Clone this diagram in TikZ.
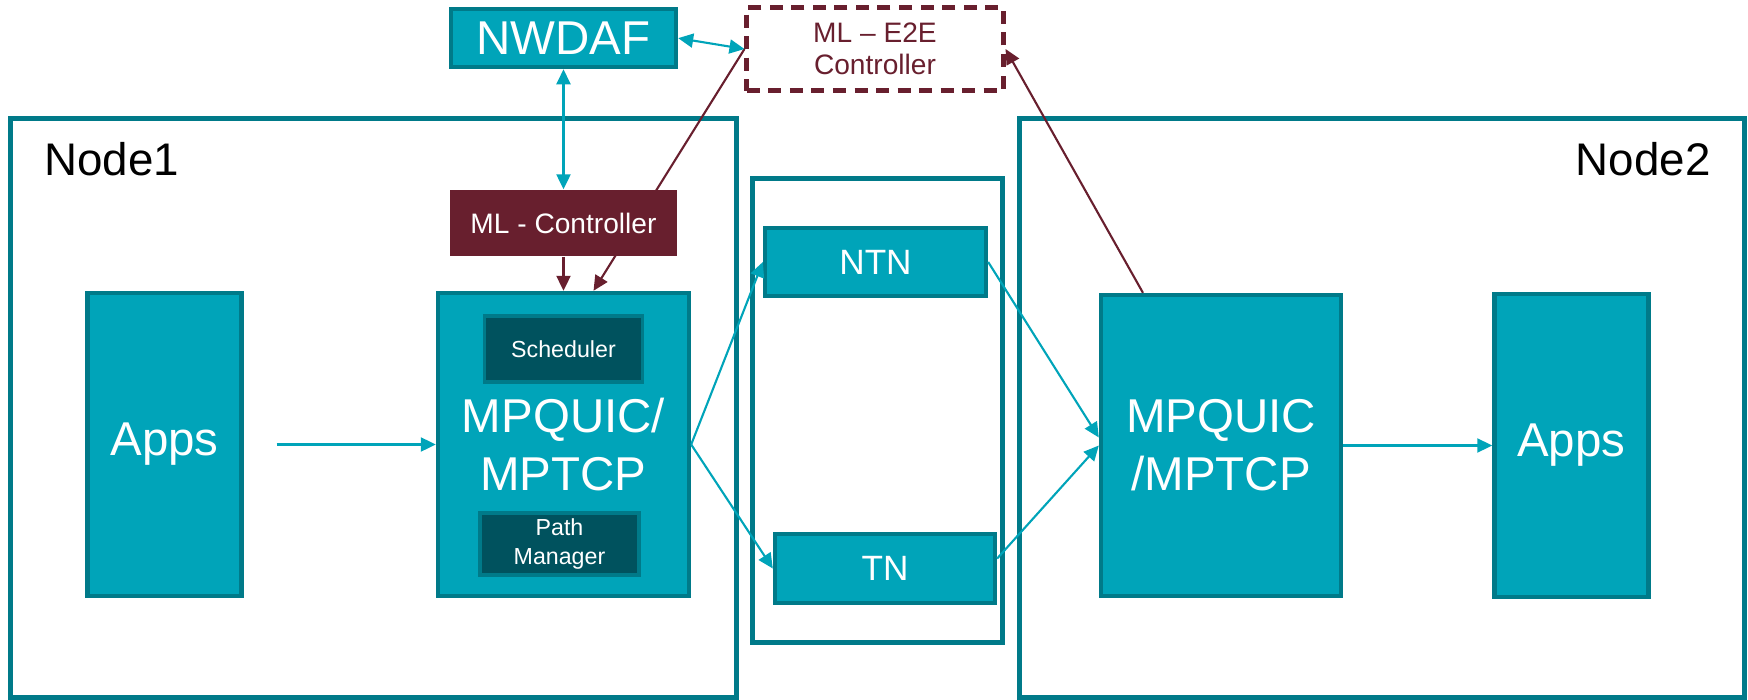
\documentclass[tikz,border=0pt]{standalone}
\usepackage{fontspec}
\setmainfont{Liberation Sans}
\usetikzlibrary{shapes,arrows,arrows.meta,positioning}
\definecolor{tealfill}{HTML}{00A4B9}
\definecolor{tealedge}{HTML}{007A89}
\definecolor{tealdeep}{HTML}{00525E}
\definecolor{mlred}{HTML}{681F2E}

\begin{document}
\begin{tikzpicture}[x=0.01cm, y=-0.01cm, node distance=0.5cm, auto]
    % Estilos
    \tikzstyle{frame} = [rectangle, draw=tealedge, line width=1.4pt, inner sep=0pt]
    \tikzstyle{block} = [rectangle, draw=tealedge, fill=tealfill, line width=1.2pt,
    text=white, align=center, inner sep=0pt, font=\fontsize{13.5}{16.5}\selectfont]
    \tikzstyle{subblock} = [rectangle, draw=tealedge, fill=tealdeep, line width=1.1pt,
    text=white, align=center, inner sep=0pt, font=\fontsize{6.6}{8.2}\selectfont]
    \tikzstyle{path} = [block, font=\fontsize{10}{12}\selectfont]
    \tikzstyle{mlbox} = [rectangle, fill=mlred, text=white, align=center, inner sep=0pt,
    font=\fontsize{8}{9.2}\selectfont]
    \tikzstyle{link} = [draw=tealfill, line width=0.6pt, -{Triangle[length=0.15cm, width=0.14cm]}]
    \tikzstyle{biglink} = [link, {Triangle[length=0.15cm, width=0.14cm]}-{Triangle[length=0.15cm, width=0.14cm]}]
    \tikzstyle{mllink} = [draw=mlred, line width=0.6pt, -{Triangle[length=0.15cm, width=0.14cm]}]

    \useasboundingbox (0,0) rectangle (1748,700);

    % Marcos
    \node [frame, minimum width=7.25cm, minimum height=5.78cm] (node1) at (373.5,408) {};
    \node [frame, minimum width=2.49cm, minimum height=4.63cm] (mid) at (877.5,410.5) {};
    \node [frame, minimum width=7.24cm, minimum height=5.78cm] (node2) at (1382,408) {};
    \node [anchor=base west, font=\fontsize{13}{16}\selectfont] (name1) at (32,175) {Node1};
    \node [anchor=base east, font=\fontsize{13}{16}\selectfont] (name2) at (1723,175) {Node2};

    % Nodo 1
    \node [block, minimum width=2.51cm, minimum height=3.03cm] (mpql) at (563.5,444.5) {MPQUIC/\\MPTCP};
    \node [block, minimum width=1.54cm, minimum height=3.03cm, left=1.92cm of mpql] (appsl) {Apps};
    \node [subblock, minimum width=1.58cm, minimum height=0.66cm, below=0.23cm of mpql.north] (sched) {Scheduler};
    \node [subblock, minimum width=1.59cm, minimum height=0.62cm, above=0.21cm of mpql.south, xshift=-0.04cm] (pathm) {Path\\Manager};

    % Caminos
    \node [path, minimum width=2.21cm, minimum height=0.68cm] (ntn) at (875.5,262) {NTN};
    \node [path, minimum width=2.20cm, minimum height=0.69cm] (tn) at (885,568.5) {TN};

    % Nodo 2
    \node [block, minimum width=2.40cm, minimum height=3.01cm] (mpqr) at (1221,445.5) {MPQUIC\\/MPTCP};
    \node [block, minimum width=1.54cm, minimum height=3.03cm, right=1.49cm of mpqr] (appsr) {Apps};

    % Control
    \node [rectangle, draw=mlred, line width=1.4pt, dash pattern=on 0.13cm off 0.085cm,
    minimum width=2.56cm, minimum height=0.83cm, text=mlred, align=center,
    font=\fontsize{8}{9.2}\selectfont] (e2e) at (875,49) {ML -- E2E\\Controller};
    \draw [mllink] (e2e.west) -- ([xshift=0.3cm]mpql.north);
    \node [mlbox, minimum width=2.26cm, minimum height=0.66cm, above=0.34cm of mpql] (mlc) {ML - Controller};
    \node [block, minimum width=2.25cm, minimum height=0.58cm, above=1.2cm of mlc] (nwdaf) {NWDAF};

    \draw [biglink] (nwdaf.east) -- (e2e.west);
    \draw [biglink] (nwdaf) -- (mlc);
    \draw [mllink] (mlc) -- (mpql);
    \draw [mllink] ([xshift=-0.78cm]mpqr.north) -- (e2e.east);
    \draw [link, shorten <=0.33cm] (appsl) -- (mpql);
    \draw [link] (mpql.east) -- (ntn.west);
    \draw [link] (mpql.east) -- (tn.west);
    \draw [link] (ntn.east) -- ([yshift=0.08cm]mpqr.west);
    \draw [link] ([yshift=0.1cm]tn.east) -- (mpqr.west);
    \draw [link] (mpqr) -- (appsr);
\end{tikzpicture}
\end{document}
